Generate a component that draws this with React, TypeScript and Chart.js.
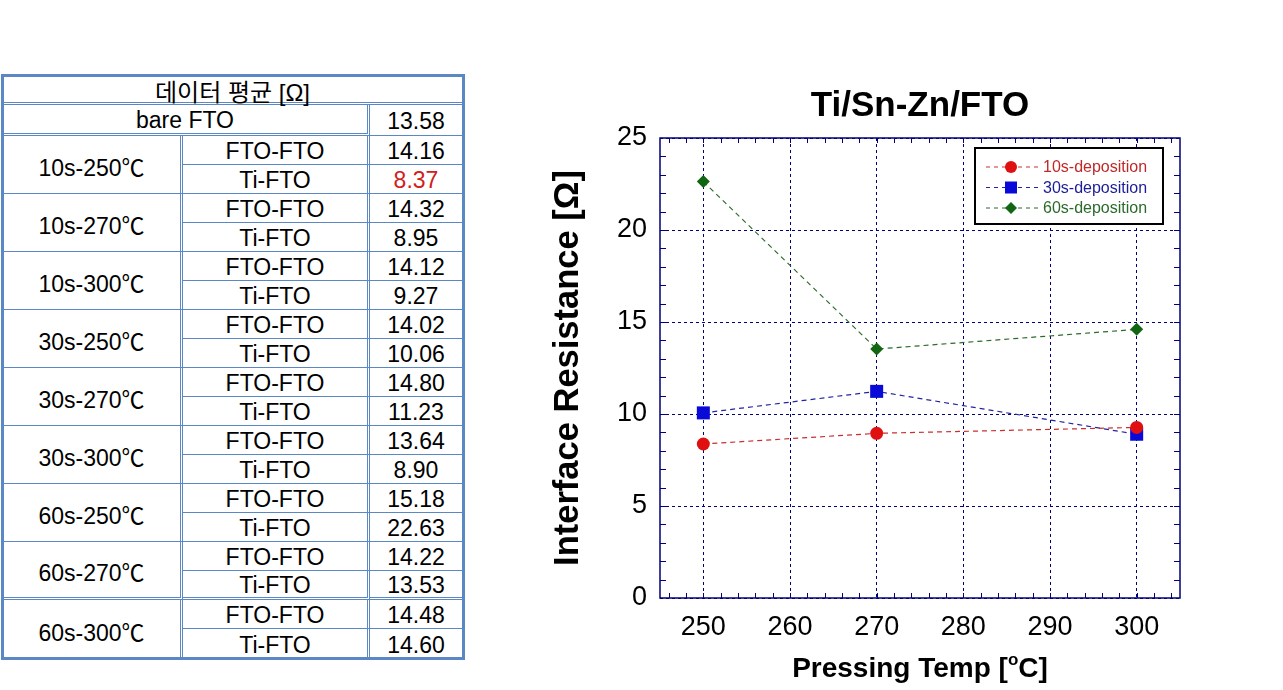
import React, { useEffect, useRef } from "react";
import { Chart, registerables } from "chart.js";

Chart.register(...registerables);

// ---------- table data ----------
const tableHeader = "데이터 평균 [Ω]";
const bareLabel = "bare FTO";
const bareValue = "13.58";
const groupLabels = [
  "10s-250℃", "10s-270℃", "10s-300℃",
  "30s-250℃", "30s-270℃", "30s-300℃",
  "60s-250℃", "60s-270℃", "60s-300℃",
];
const pairLabels = ["FTO-FTO", "Ti-FTO"];
const ftoValues = ["14.16", "14.32", "14.12", "14.02", "14.80", "13.64", "15.18", "14.22", "14.48"];
const tiFtoValues = ["8.37", "8.95", "9.27", "10.06", "11.23", "8.90", "22.63", "13.53", "14.60"];
const highlightedValue = "8.37";

// ---------- chart data ----------
const chartTitle = "Ti/Sn-Zn/FTO";
const xTitleMain = "Pressing Temp [";
const xTitleSup = "o";
const xTitleEnd = "C]";
const yTitle = "Interface Resistance [Ω]";
const temps = [250, 270, 300];
const dep10 = [8.37, 8.95, 9.27];
const dep30 = [10.06, 11.23, 8.9];
const dep60 = [22.63, 13.53, 14.6];
const seriesLabels = ["10s-deposition", "30s-deposition", "60s-deposition"];
const xTickValues = [250, 260, 270, 280, 290, 300];
const xMin = 245;
const xMax = 305;
const yMin = 0;
const yMax = 25;
const yStep = 5;
const xMinorStep = 2;
const yMinorStep = 1;

const NAVY = "#00007a";
const FONT = '"Liberation Sans", Arial, "Noto Sans CJK KR", sans-serif';

const seriesStyle = [
  { marker: "#e01010", line: "#c83030", text: "#c02828", style: "circle", radius: 6.5 },
  { marker: "#0a0ad8", line: "#2424a0", text: "#1c1c98", style: "rect", radius: 9.2 },
  { marker: "#116611", line: "#2b6b2b", text: "#2a6a2a", style: "rectRot", radius: 6.5 },
];

function drawMarker(ctx: CanvasRenderingContext2D, style: string, x: number, y: number, color: string) {
  ctx.fillStyle = color;
  ctx.beginPath();
  if (style === "circle") {
    ctx.arc(x, y, 6, 0, Math.PI * 2);
  } else if (style === "rect") {
    ctx.rect(x - 6, y - 6, 12, 12);
  } else {
    ctx.moveTo(x - 6, y);
    ctx.lineTo(x, y - 6);
    ctx.lineTo(x + 6, y);
    ctx.lineTo(x, y + 6);
    ctx.closePath();
  }
  ctx.fill();
}

const framePlugin = {
  id: "frame",
  beforeDatasetsDraw(chart: any) {
    const { ctx, chartArea: a, scales } = chart;
    ctx.save();
    ctx.strokeStyle = NAVY;
    ctx.lineWidth = 1;
    ctx.setLineDash([]);
    ctx.beginPath();
    for (let v = xMin + 1; v < xMax; v += xMinorStep) {
      const px = Math.round(scales.x.getPixelForValue(v)) + 0.5;
      ctx.moveTo(px, a.bottom);
      ctx.lineTo(px, a.bottom - 5);
      ctx.moveTo(px, a.top);
      ctx.lineTo(px, a.top + 5);
    }
    for (let v = yMin + yMinorStep; v < yMax; v += yMinorStep) {
      const py = Math.round(scales.y.getPixelForValue(v)) + 0.5;
      ctx.moveTo(a.left, py);
      ctx.lineTo(a.left + 6, py);
      ctx.moveTo(a.right, py);
      ctx.lineTo(a.right - 6, py);
    }
    ctx.stroke();
    ctx.lineWidth = 1.5;
    ctx.strokeRect(a.left, a.top, a.right - a.left, a.bottom - a.top);
    ctx.restore();
  },
  afterDraw(chart: any) {
    const { ctx, chartArea: a } = chart;
    ctx.save();
    // legend box
    const bw = 188;
    const bh = 76;
    const bx = a.right - 17 - bw;
    const by = a.top + 10;
    ctx.fillStyle = "#ffffff";
    ctx.fillRect(bx, by, bw, bh);
    ctx.strokeStyle = "#000";
    ctx.lineWidth = 2;
    ctx.setLineDash([]);
    ctx.strokeRect(bx, by, bw, bh);
    const rows = [19, 39.5, 60];
    chart.data.datasets.forEach((ds: any, i: number) => {
      const st = seriesStyle[i];
      const y = by + rows[i];
      ctx.strokeStyle = st.line;
      ctx.lineWidth = 1;
      ctx.setLineDash([4, 4]);
      ctx.beginPath();
      ctx.moveTo(bx + 11, y);
      ctx.lineTo(bx + 66, y);
      ctx.stroke();
      ctx.setLineDash([]);
      drawMarker(ctx, st.style, bx + 36, y, st.marker);
      ctx.fillStyle = st.text;
      ctx.font = `16px ${FONT}`;
      ctx.textAlign = "left";
      ctx.textBaseline = "middle";
      ctx.fillText(ds.label, bx + 68, y + 1);
    });
    // x axis title with superscript
    const big = `bold 28px ${FONT}`;
    const small = `bold 17px ${FONT}`;
    ctx.font = big;
    const w1 = ctx.measureText(xTitleMain).width;
    const w3 = ctx.measureText(xTitleEnd).width;
    ctx.font = small;
    const w2 = ctx.measureText(xTitleSup).width;
    const total = w1 + w2 + w3;
    const cx = (a.left + a.right) / 2;
    let x = cx - total / 2;
    const yb = 607;
    ctx.fillStyle = "#000";
    ctx.textAlign = "left";
    ctx.textBaseline = "alphabetic";
    ctx.font = big;
    ctx.fillText(xTitleMain, x, yb);
    x += w1;
    ctx.font = small;
    ctx.fillText(xTitleSup, x, yb - 12);
    x += w2;
    ctx.font = big;
    ctx.fillText(xTitleEnd, x, yb);
    ctx.restore();
  },
};

function ChartBox() {
  const ref = useRef<HTMLCanvasElement>(null);
  useEffect(() => {
    const series = [dep10, dep30, dep60];
    const chart = new Chart(ref.current as HTMLCanvasElement, {
      type: "line",
      data: {
        datasets: series.map((vals, i) => ({
          label: seriesLabels[i],
          data: temps.map((t, j) => ({ x: t, y: vals[j] })),
          borderColor: seriesStyle[i].line,
          backgroundColor: seriesStyle[i].marker,
          pointBackgroundColor: seriesStyle[i].marker,
          pointBorderColor: seriesStyle[i].marker,
          pointBorderWidth: 0,
          pointStyle: seriesStyle[i].style as any,
          pointRadius: seriesStyle[i].radius,
          borderDash: [5, 4],
          borderWidth: 1.2,
          fill: false,
          tension: 0,
        })),
      },
      options: {
        responsive: false,
        animation: false,
        devicePixelRatio: 1,
        layout: { padding: { left: 0, right: 80, top: 0, bottom: 0 } },
        plugins: {
          legend: { display: false },
          tooltip: { enabled: false },
          title: {
            display: true,
            fullSize: false,
            text: chartTitle,
            color: "#000",
            font: { family: FONT, size: 35, weight: "bold" },
            padding: { top: 15, bottom: 11 },
          },
        },
        scales: {
          x: {
            type: "linear",
            min: xMin,
            max: xMax,
            afterBuildTicks: (axis: any) => {
              axis.ticks = xTickValues.map((value) => ({ value }));
            },
            afterFit: (s: any) => {
              s.height = 92;
            },
            grid: { color: NAVY, lineWidth: 1, drawTicks: false },
            border: { display: false, dash: [3, 3] },
            ticks: { color: "#000", font: { family: FONT, size: 27 }, padding: 13, autoSkip: false, maxRotation: 0 },
          },
          y: {
            min: yMin,
            max: yMax,
            afterFit: (s: any) => {
              s.width = 120;
            },
            grid: { color: NAVY, lineWidth: 1, drawTicks: false },
            border: { display: false, dash: [3, 3] },
            ticks: { stepSize: yStep, color: "#000", font: { family: FONT, size: 27 }, padding: 13 },
            title: {
              display: true,
              text: yTitle,
              color: "#000",
              font: { family: FONT, size: 34.5, weight: "bold" },
              padding: { top: 7.3, bottom: 0 },
            },
          },
        },
      },
      plugins: [framePlugin],
    });
    return () => chart.destroy();
  }, []);
  return (
    <canvas
      ref={ref}
      width={720}
      height={620}
      style={{ position: "absolute", left: 540, top: 70, width: 720, height: 620 }}
    />
  );
}

const BORDER = "#5b87c4";
const cellBase: React.CSSProperties = {
  position: "absolute",
  boxSizing: "border-box",
  display: "flex",
  alignItems: "center",
  justifyContent: "center",
  fontFamily: FONT,
  fontSize: 23,
  color: "#000",
  whiteSpace: "nowrap",
  paddingTop: 3,
};

function Cell(props: { x: number; y: number; w: number; h: number; text: string; color?: string; st?: React.CSSProperties }) {
  return (
    <div
      style={{
        ...cellBase,
        left: props.x,
        top: props.y,
        width: props.w,
        height: props.h,
        color: props.color || "#000",
        borderRight: `1px solid ${BORDER}`,
        borderBottom: `1px solid ${BORDER}`,
        ...props.st,
      }}
    >
      {props.text}
    </div>
  );
}

function DataTable() {
  const rowH = 29;
  const start = 136;
  const c0 = 3, c1 = 183, c2 = 370, c3 = 462;
  const cells: React.ReactNode[] = [];
  cells.push(
    <Cell key="h" x={c0} y={76} w={c3 - c0} h={29} text={tableHeader} st={{ borderRight: "none", borderBottom: `3px double ${BORDER}`, fontSize: 24 }} />
  );
  cells.push(<Cell key="b" x={c0} y={105} w={c2 - c0} h={31} text={bareLabel} st={{ borderRight: `3px double ${BORDER}`, borderBottom: `3px double ${BORDER}` }} />);
  cells.push(<Cell key="bv" x={c2} y={105} w={c3 - c2} h={31} text={bareValue} st={{ borderRight: "none" }} />);
  groupLabels.forEach((g, i) => {
    const y = start + i * rowH * 2;
    const last = i === groupLabels.length - 1;
    const dbl = i === groupLabels.length - 2;
    cells.push(
      <Cell key={"g" + i} x={c0} y={y} w={c1 - c0} h={rowH * 2} text={g}
        st={{ borderRight: `3px double ${BORDER}`, borderBottom: last ? "none" : dbl ? `3px double ${BORDER}` : `1px solid ${BORDER}` }} />
    );
    const vals = [ftoValues[i], tiFtoValues[i]];
    pairLabels.forEach((p, k) => {
      const yy = y + k * rowH;
      const bottom = k === 1 && last ? "none" : k === 1 && dbl ? `3px double ${BORDER}` : `1px solid ${BORDER}`;
      cells.push(
        <Cell key={"p" + i + k} x={c1} y={yy} w={c2 - c1} h={rowH} text={p}
          st={{ borderRight: `3px double ${BORDER}`, borderBottom: bottom }} />
      );
      cells.push(
        <Cell key={"v" + i + k} x={c2} y={yy} w={c3 - c2} h={rowH} text={vals[k]}
          color={vals[k] === highlightedValue && k === 1 && i === 0 ? "#d02020" : "#000"}
          st={{ borderRight: "none", borderBottom: bottom }} />
      );
    });
  });
  return (
    <>
      {cells}
      <div
        style={{
          position: "absolute",
          left: 1,
          top: 74,
          width: 464,
          height: 586,
          boxSizing: "border-box",
          border: `3px solid ${BORDER}`,
          pointerEvents: "none",
        }}
      />
    </>
  );
}

export default function App() {
  return (
    <div
      style={{
        position: "fixed",
        left: 0,
        top: 0,
        width: 1283,
        height: 690,
        overflow: "hidden",
        background: "#fff",
      }}
    >
      <DataTable />
      <ChartBox />
    </div>
  );
}
